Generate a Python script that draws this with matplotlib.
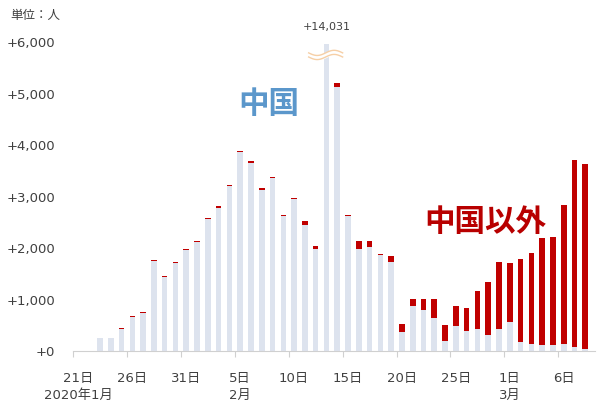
import numpy as np
import matplotlib.pyplot as plt

plt.rcParams['font.family'] = ['DejaVu Sans', 'Noto Sans CJK JP']

# 2020/1/21 .. 2020/3/8, daily new cases
days = [21, 22, 23, 24, 25, 26, 27, 28, 29, 30, 31,
        1, 2, 3, 4, 5, 6, 7, 8, 9, 10, 11, 12, 13, 14, 15, 16, 17, 18, 19, 20,
        21, 22, 23, 24, 25, 26, 27, 28, 29,
        1, 2, 3, 4, 5, 6, 7, 8]
china = [0, 0, 250, 250, 420, 665, 735, 1755, 1440, 1705, 1965,
         2110, 2560, 2785, 3200, 3860, 3660, 3120, 3355, 2615, 2950, 2445, 1990, 14000, 5135,
         2620, 1990, 2025, 1870, 1725, 375, 875, 795, 635, 200, 490, 390, 420, 310, 420,
         565, 175, 130, 110, 120, 140, 85, 40]
outside = [0, 0, 10, 10, 20, 15, 25, 15, 15, 20, 20,
           30, 20, 25, 25, 25, 30, 45, 25, 25, 25, 90, 50, 31, 70,
           20, 155, 115, 20, 125, 150, 130, 210, 370, 300, 385, 445, 740, 1025, 1305,
           1145, 1620, 1770, 2085, 2095, 2700, 3620, 3590]
month_labels = {0: '2020年1月', 15: '2月', 40: '3月'}

china = np.array(china)
outside = np.array(outside)
x = np.arange(len(days))
cap = 5970
china_draw = np.minimum(china, cap)
outside_draw = np.where(china > cap, 0, outside)

fig = plt.figure(figsize=(6, 4.09), dpi=100)
ax = fig.add_axes([73 / 600, 58 / 409, 522 / 600, 0.805])

ax.bar(x, china_draw, width=0.52, color='#dde3ee', zorder=2)
ax.bar(x, outside_draw, width=0.52, bottom=china_draw, color='#c00000', zorder=2)

ax.set_xlim(-0.5, 47.9)
ax.set_ylim(0, 6400)

# break mark on the spike
i = int(np.argmax(china))
total = china[i] + outside[i]
t = np.linspace(i - 1.65, i + 1.5, 100)
wave = 50 * np.sin((t - (i - 1.65)) / 3.15 * 2 * np.pi + np.pi)
ax.fill_between(t, 5715 + wave, 5795 + wave, color='white', zorder=3)
ax.plot(t, 5715 + wave, color='#f6cfa6', lw=1.0, zorder=4)
ax.plot(t, 5795 + wave, color='#f6cfa6', lw=1.0, zorder=4)
ax.text(i, 6300, f'+{total:,}', ha='center', va='center', fontsize=8, color='#404040')

# y axis
yt = np.arange(0, 6001, 1000)
ax.set_yticks(yt)
ax.set_yticklabels([f'+{v:,}' for v in yt], fontsize=9.5, color='#404040')
ax.tick_params(axis='y', length=0, pad=13)

# x axis
major = list(range(0, len(days), 5))
labels = []
for k in major:
    s = f'{days[k]}日'
    if k in month_labels:
        s += '\n' + month_labels[k]
    labels.append(s)
ax.set_xticks(major)
ax.set_xticklabels(labels, fontsize=9.5, color='#404040', linespacing=1.45, va='top')
ax.tick_params(axis='x', which='major', length=0, pad=15)
ax.set_xticks(np.arange(-0.5, len(days), 5), minor=True)
ax.tick_params(axis='x', which='minor', length=4, color='#d0d0d0', width=0.8)

for s in ['top', 'right', 'left']:
    ax.spines[s].set_visible(False)
ax.spines['bottom'].set_color('#d0d0d0')
ax.spines['bottom'].set_linewidth(0.8)

ax.text(17.7, 4800, '中国', fontsize=22, fontweight='bold', color='#5b97cb',
        ha='center', va='center', family=['Noto Sans CJK JP'], zorder=5)
ax.text(37.7, 2507, '中国以外', fontsize=22, fontweight='bold', color='#b80000',
        ha='center', va='center', family=['Noto Sans CJK JP'], zorder=5)

fig.text(10 / 600, 1 - 15 / 409, '単位：人', fontsize=9, color='#404040',
         ha='left', va='center', family=['Noto Sans CJK JP'])

fig.savefig('out.png', dpi=100)
